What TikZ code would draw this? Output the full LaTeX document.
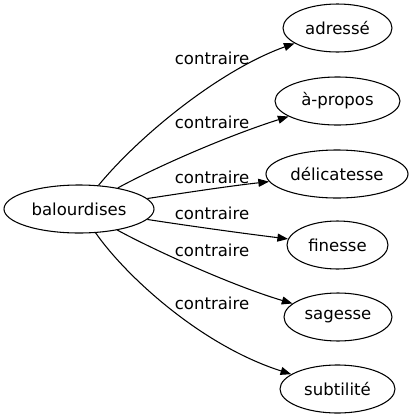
\documentclass[tikz,border=0pt]{standalone}
\usepackage{fontspec}
\setmainfont{DejaVu Sans}
\usetikzlibrary{shapes.geometric,arrows.meta}
\begin{document}
\begin{tikzpicture}[x=0.75pt,y=-0.75pt,
  every node/.style={font=\fontsize{12.4pt}{14pt}\selectfont},
  word/.style={draw,ellipse,line width=0.8pt,inner sep=0pt,minimum height=36pt},
  rel/.style={draw,line width=0.8pt,-{Triangle[length=8pt,width=6pt]}},
  lab/.style={inner sep=0pt}]
\useasboundingbox (0,0) rectangle (414,419);
\node[word,minimum width=112.5pt] (bal) at (79,209) {balourdises};
\node[word,minimum width=81.75pt] (adr) at (337.5,28) {adressé};
\node[word,minimum width=93.75pt] (apr) at (337.5,101) {à-propos};
\node[word,minimum width=106.5pt] (del) at (337,174) {délicatesse};
\node[word,minimum width=75.75pt] (fin) at (337.5,245) {finesse};
\node[word,minimum width=81pt] (sag) at (338,317) {sagesse};
\node[word,minimum width=86.25pt] (sub) at (337.5,389) {subtilité};
\draw[rel] (bal) .. controls (140,135) and (220,70) .. (adr);
\draw[rel] (bal) .. controls (160,165) and (230,135) .. (apr);
\draw[rel] (bal) .. controls (190,192) and (230,186) .. (del);
\draw[rel] (bal) .. controls (190,226) and (240,233) .. (fin);
\draw[rel] (bal) .. controls (150,248) and (230,285) .. (sag);
\draw[rel] (bal) .. controls (125,275) and (200,345) .. (sub);
\node[lab] (l1) at (212,58) {contraire};
\node[lab] (l2) at (212,122) {contraire};
\node[lab] (l3) at (212,177) {contraire};
\node[lab] (l4) at (212,213) {contraire};
\node[lab] (l5) at (212,250) {contraire};
\node[lab] (l6) at (212,303) {contraire};
\end{tikzpicture}
\end{document}
